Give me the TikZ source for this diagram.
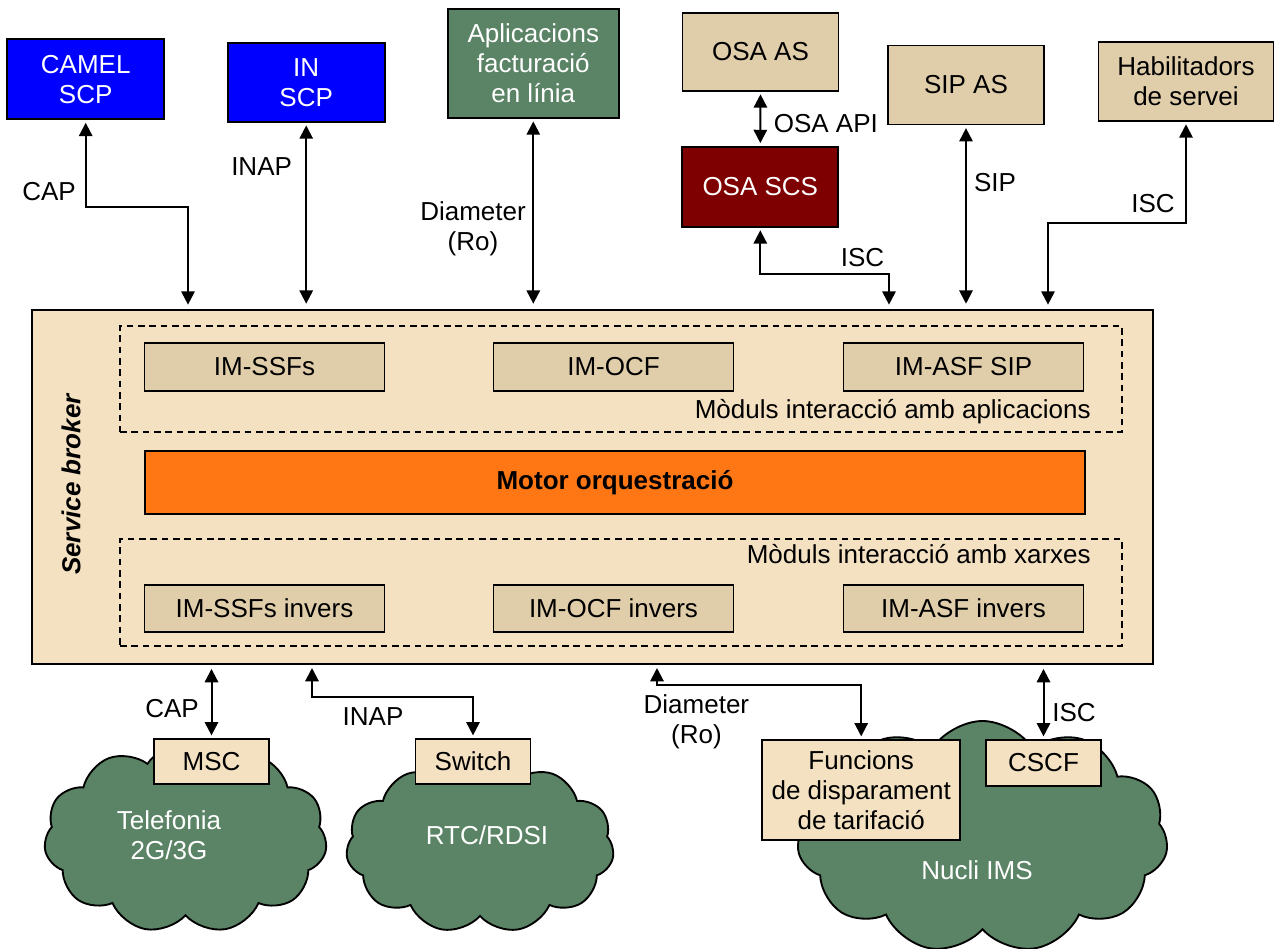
\documentclass[tikz,border=0pt]{standalone}
\usepackage{fontspec}
\setmainfont{Liberation Sans}
\usetikzlibrary{arrows.meta,shapes.symbols}
\definecolor{tanbox}{HTML}{E0CDAA}
\definecolor{brokerbg}{HTML}{F4E1C2}
\definecolor{netgreen}{HTML}{5A8465}
\definecolor{scpblue}{HTML}{0000FF}
\definecolor{scsred}{HTML}{7F0000}
\definecolor{motororange}{HTML}{FF7715}
\newcommand\lblfont{\fontsize{19.5pt}{22.5pt}\selectfont}

\begin{document}
\begin{tikzpicture}[x=0.75pt,y=-0.75pt,
  sz/.style 2 args={minimum width=#1*0.75pt, minimum height=#2*0.75pt},
  blk/.style={draw=black, line width=1.4pt, inner sep=0pt, align=center, font=\lblfont},
  tanblk/.style={blk, fill=tanbox},
  ltblk/.style={blk, fill=brokerbg},
  blueblk/.style={blk, fill=scpblue, text=white},
  greenblk/.style={blk, fill=netgreen, text=white},
  redblk/.style={blk, fill=scsred, text=white},
  dashblk/.style={draw=black, line width=1.1pt, dash pattern=on 5pt off 3.5pt, inner sep=0pt},
  netcloud/.style={cloud, cloud puffs=11, cloud puff arc=115, cloud ignores aspect,
    draw=black, line width=1.4pt, fill=netgreen, inner sep=0pt},
  lbl/.style={font=\lblfont, inner sep=0pt, align=center},
  wlbl/.style={lbl, text=white},
  link/.style={line width=1.5pt, >={Triangle[length=10pt,width=10pt]}, <->,
    shorten <=2pt, shorten >=2pt}
]
\path[use as bounding box] (0,0) rectangle (1275,949);

% ---- service broker and its internal modules ----
\node[ltblk, sz={1121}{354}] (sb) at (592.5,487) {};
\node[font=\lblfont\bfseries\itshape, rotate=90, inner sep=0pt] (sbname) at (71,484.5) {Service broker};

\node[dashblk, sz={1002}{106}] (apmods) at (621,379) {};
\node[tanblk, sz={240}{48}] (imssf) at (264.5,367) {IM-SSFs};
\node[tanblk, sz={240}{48}] (imocf) at (613.5,367) {IM-OCF};
\node[tanblk, sz={240}{48}] (imasf) at (963.5,367) {IM-ASF SIP};
\node[lbl, anchor=east] (aplbl) at (1091,412) {Mòduls interacció amb aplicacions};

\node[blk, fill=motororange, sz={940}{63}, font=\lblfont\bfseries] (motor) at (615,482.5) {Motor orquestració};

\node[dashblk, sz={1002}{107}] (nwmods) at (621,592.5) {};
\node[lbl, anchor=east] (nwlbl) at (1091,554) {Mòduls interacció amb xarxes};
\node[tanblk, sz={240}{47}] (imssfi) at (264.5,608.5) {IM-SSFs invers};
\node[tanblk, sz={240}{47}] (imocfi) at (613.5,608.5) {IM-OCF invers};
\node[tanblk, sz={240}{47}] (imasfi) at (963.5,608.5) {IM-ASF invers};

% ---- application side ----
\node[blueblk, sz={157}{80}] (camel) at (85.7,79.2) {CAMEL\\SCP};
\node[blueblk, sz={157}{79}] (inscp) at (306.2,82.3) {IN\\SCP};
\node[greenblk, sz={171}{109}] (aplic) at (533.3,63.3) {Aplicacions\\facturació\\en línia};
\node[tanblk, sz={156}{78}] (osaas) at (760.5,51.7) {OSA AS};
\node[redblk, sz={156}{80}] (osascs) at (760.3,186.7) {OSA SCS};
\node[tanblk, sz={156}{79}] (sipas) at (966,85) {SIP AS};
\node[tanblk, sz={175}{79}] (habil) at (1186,81.2) {Habilitadors\\de servei};

% ---- network side ----
\node[netcloud, sz={283}{190}] (ctel) at (185.5,838) {};
\node[netcloud, sz={268}{173}] (crtc) at (480,846.5) {};
\node[netcloud, sz={371}{232}] (cims) at (982.5,837) {};
\node[wlbl] (teltxt) at (169,835) {Telefonia\\2G/3G};
\node[wlbl] (rtctxt) at (487,835) {RTC/RDSI};
\node[wlbl] (imstxt) at (977,870) {Nucli IMS};

\node[ltblk, sz={115}{45}] (msc) at (211.5,761.5) {MSC};
\node[ltblk, sz={115}{45}] (switch) at (473,761.5) {Switch};
\node[ltblk, sz={198}{100}] (func) at (861.2,790) {Funcions\\de disparament\\de tarifació};
\node[ltblk, sz={115}{46}] (cscf) at (1043.5,763) {CSCF};

% ---- attachment points on the broker ----
\coordinate (tcap) at (188,310);
\coordinate (tisc) at (889,310);
\coordinate (thab) at (1048,310);
\coordinate (binap) at (312,664);
\coordinate (bdia) at (657,664);

% ---- connectors above the broker ----
\draw[link, shorten >=4pt] (camel.south) -- ++(0,87) -| (tcap);
\draw[link, shorten >=4pt] (inscp.south) -- (inscp.south |- sb.north);
\draw[link, shorten >=4pt] (aplic.south) -- (aplic.south |- sb.north);
\draw[link] (osaas.south) -- (osascs.north);
\draw[link, shorten >=4pt] (osascs.south) -- ++(0,46) -| (tisc);
\draw[link, shorten >=4pt] (sipas.south) -- (sipas.south |- sb.north);
\draw[link, shorten >=4pt] (habil.south) -- ++(0,101.5) -| (thab);

\node[lbl] (capa) at (49,191.7) {CAP};
\node[lbl] (inapa) at (261.6,166.7) {INAP};
\node[lbl] (diaa) at (473,228.5) {Diameter\\(Ro)};
\node[lbl, anchor=west] (osaapi) at (773.6,124) {OSA API};
\node[lbl] (isca) at (862.5,258) {ISC};
\node[lbl] (sipa) at (995,183) {SIP};
\node[lbl] (iscb) at (1153,204) {ISC};

% ---- connectors below the broker ----
\draw[link, shorten <=3pt] (msc.north |- sb.south) -- (msc.north);
\draw[link, shorten <=3pt] (binap) -- ++(0,33) -| (switch.north);
\draw[link, shorten <=3pt] (bdia) -- ++(0,21) -| (func.north);
\draw[link, shorten <=3pt] (cscf.north |- sb.south) -- (cscf.north);

\node[lbl] (capb) at (172,709) {CAP};
\node[lbl] (inapb) at (373,716.7) {INAP};
\node[lbl] (diab) at (696.4,721.5) {Diameter\\(Ro)};
\node[lbl] (iscc) at (1074,712.7) {ISC};
\end{tikzpicture}
\end{document}
